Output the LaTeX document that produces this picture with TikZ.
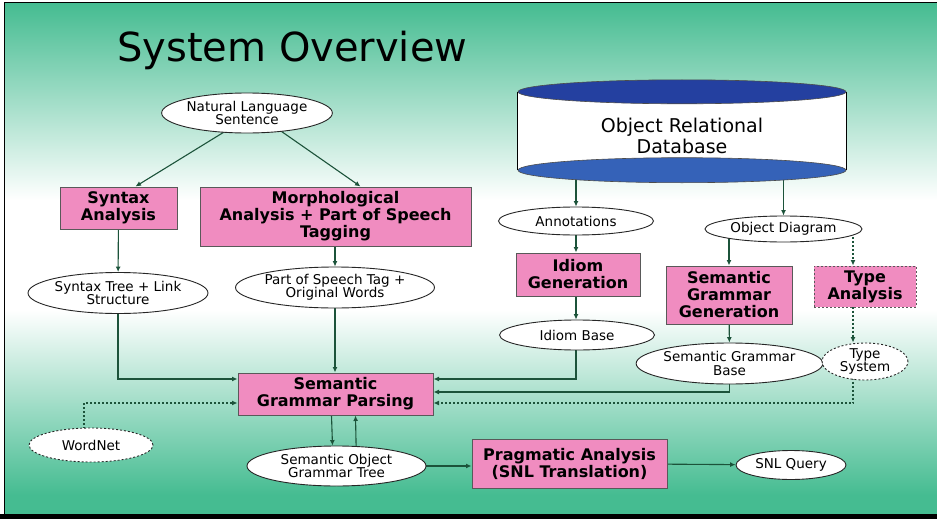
\documentclass[tikz,border=0pt]{standalone}
\usepackage{fontspec}
\setmainfont{DejaVu Sans}
\usetikzlibrary{arrows.meta,positioning,shapes.geometric,calc,backgrounds}
\definecolor{bggreen}{HTML}{45BC91}
\definecolor{boxpink}{HTML}{F08CC0}
\definecolor{linegreen}{HTML}{1C533A}
\definecolor{dbtop}{HTML}{2440A0}
\definecolor{dbbot}{HTML}{3562B8}

\begin{document}
\begin{tikzpicture}[
    x=1pt, y=-1pt, >=Latex,
    box/.style={draw=black!65, fill=boxpink, line width=1pt, inner sep=0pt, align=center,
                font=\fontsize{16}{17}\selectfont\bfseries},
    dashbox/.style={box, dash pattern=on 2pt off 2pt},
    oval/.style={ellipse, draw=black!85, fill=white, line width=0.9pt, inner sep=0pt, align=center,
                 font=\fontsize{13.5}{13.5}\selectfont},
    dashoval/.style={oval, dash pattern=on 2pt off 2pt},
    arr/.style={draw=linegreen, line width=1.1pt, -{Latex[length=5.5pt,width=5pt]}},
    dotarr/.style={arr, dash pattern=on 2pt off 2pt},
]
\useasboundingbox (0,0) rectangle (937,519);

% slide background
\begin{scope}[on background layer]
\fill[white] (0,0) rectangle (937,519);
\shade[top color=bggreen, bottom color=white] (4.6,3) rectangle (937,200);
\shade[top color=white, bottom color=bggreen] (4.6,310) rectangle (937,495);
\fill[bggreen] (4.6,494.5) rectangle (937,514);
\fill[black] (0,514) rectangle (937,519);
\draw[line width=1.2pt] (937,2.6) -- (4.6,2.6) -- (4.6,514);
\end{scope}

\node[font=\fontsize{40}{40}\selectfont, anchor=base west, inner sep=0pt] (title) at (117,62) {System Overview};

% left branch
\node[oval, minimum width=157, minimum height=40] (nls) at (247,113) {Natural Language\\Sentence};
\node[box, minimum width=117, minimum height=42] (syn) at (118.5,208) {Syntax\\Analysis};
\node[box, minimum width=271, minimum height=59] (mor) at (335.5,216.5) {Morphological\\Analysis + Part of Speech\\Tagging};
\node[oval, minimum width=180, minimum height=41] (stree) at (118,293) {Syntax Tree + Link\\Structure};
\node[oval, minimum width=180, minimum height=41] (pos) at (335,287.5) {Part of Speech Tag +\\Original Words};
\node[box, minimum width=195, minimum height=42] (sgp) at (335.5,394) {Semantic\\Grammar Parsing};
\node[dashoval, minimum width=124, minimum height=34] (wn) at (91,445) {WordNet};
\node[oval, minimum width=179, minimum height=40] (sogt) at (336.5,466) {Semantic Object\\Grammar Tree};
\node[box, minimum width=195, minimum height=49] (prag) at (569.5,463.5) {Pragmatic Analysis\\(SNL Translation)};
\node[oval, minimum width=110, minimum height=29] (snl) at (791,465) {SNL Query};

% database
\node[fill=white, minimum width=328, minimum height=78, inner sep=0pt] (db) at (682,131) {};
\draw[line width=0.8pt] (db.north west) -- (db.south west) (db.north east) -- (db.south east);
\draw[fill=dbtop, draw=black!70, line width=0.6pt] (db.north) ellipse [x radius=164, y radius=12];
\draw[fill=dbbot, draw=black!70, line width=0.6pt] (db.south) ellipse [x radius=164, y radius=12.5];
\node[align=center, font=\fontsize{19}{21}\selectfont] (dbtxt) at ($(db)+(0,5)$) {Object Relational\\Database};

% right branches
\node[oval, minimum width=155, minimum height=28] (ann) at (576,221) {Annotations};
\node[box, minimum width=124, minimum height=43] (idg) at (578,274.5) {Idiom\\Generation};
\node[oval, minimum width=155, minimum height=30] (idb) at (577,335) {Idiom Base};
\node[oval, minimum width=157, minimum height=26] (od) at (783.5,229) {Object Diagram};
\node[box, minimum width=126, minimum height=58] (sgg) at (729,295) {Semantic\\Grammar\\Generation};
\node[oval, minimum width=155, minimum height=41] (sgb) at (729.5,363.5) {Semantic Grammar\\Base};
\node[dashbox, minimum width=102, minimum height=41] (ta) at (865,286.5) {Type\\Analysis};
\node[dashoval, minimum width=86, minimum height=37] (tsy) at (865,361.5) {Type\\System};
\coordinate (tcol) at (853,0);

\begin{scope}[on background layer]
% sentence analysis
\draw[arr] ($(nls.center)+(8,0)$) -- ($(syn.north)+(17,0)$);
\draw[arr] ($(nls.center)+(8,0)$) -- ($(mor.north)+(25,0)$);
\draw[arr] (syn) -- (stree);
\draw[arr] (pos |- mor.south) -- (pos);
\draw[arr] (stree) |- (sgp.west |- 0,379);
\draw[arr] (pos) -- (pos |- sgp.north);
\draw[dotarr] ($(wn.center)+(-7,0)$) |- (sgp.west |- 0,403);
% from the database
\draw[arr] (ann |- db.south) -- (ann);
\draw[arr] (ann) -- (ann |- idg.north);
\draw[arr] (ann |- idg.south) -- (ann |- idb.north);
\draw[arr] (ann |- idb) |- (sgp.east |- 0,379);
\draw[arr] (od |- db.south) -- (od);
\draw[arr] (sgg |- od) -- (sgg);
\draw[arr] (sgg) -- (sgb);
\draw[arr] (sgb) |- (sgp.east |- 0,392);
\draw[dotarr] (od -| tcol) -- (ta.north -| tcol);
\draw[dotarr] (ta -| tcol) -- (tsy.north -| tcol);
\draw[dotarr] (tsy -| tcol) |- (sgp.east |- 0,403);
% parse tree and translation
\draw[arr] ($(sgp.south)+(-4,0)$) -- ($(sogt.north)+(-4,0)$);
\draw[arr] ($(sogt.center)+(20,0)$) -- ($(sgp.south)+(20,0)$);
\draw[arr] (sogt) -- (prag.west |- sogt);
\draw[arr] (prag) -- (snl);
\end{scope}
\end{tikzpicture}
\end{document}
